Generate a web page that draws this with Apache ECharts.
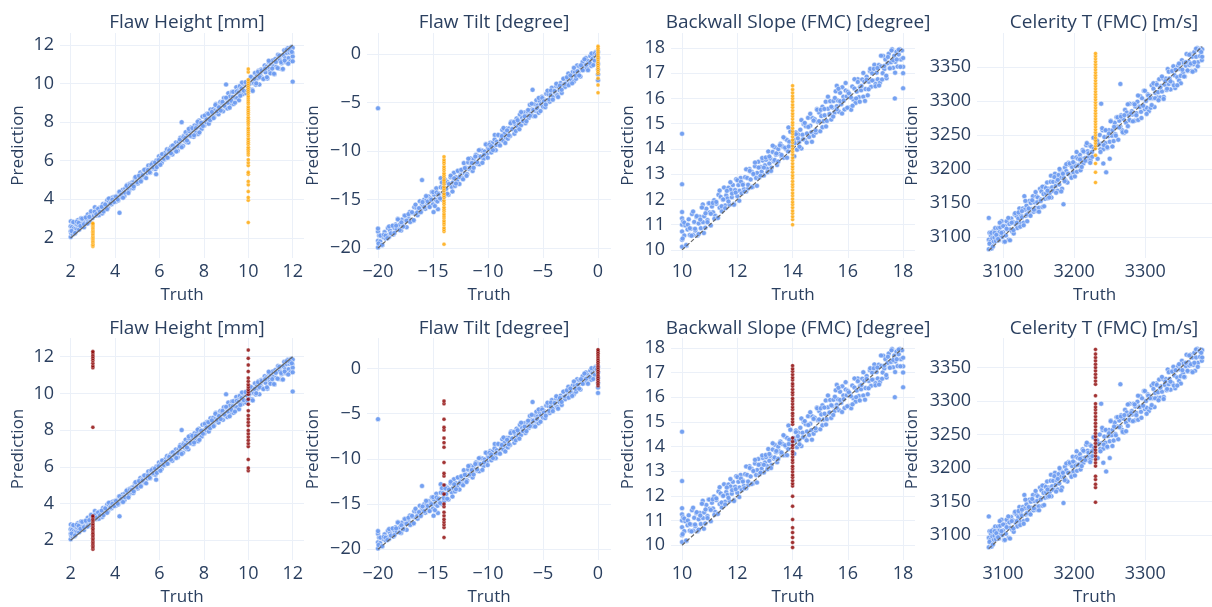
<!DOCTYPE html>
<html><head><meta charset="utf-8">
<script src="https://cdn.jsdelivr.net/npm/echarts@6/dist/echarts.min.js"></script>
<style>html,body{margin:0;padding:0;background:#fff}#c{width:1212px;height:607px}</style>
</head><body><div id="c"></div>
<script>
// ---------- titles & tick labels ----------
const panelTitles = ["Flaw Height [mm]", "Flaw Tilt [degree]", "Backwall Slope (FMC) [degree]", "Celerity T (FMC) [m/s]"];
const xTicks = [[2,4,6,8,10,12], [-20,-15,-10,-5,0], [10,12,14,16,18], [3100,3200,3300]];
const yTicks = [[2,4,6,8,10,12], [-20,-15,-10,-5,0], [10,11,12,13,14,15,16,17,18], [3100,3150,3200,3250,3300,3350]];

// ---------- identity lines (truth = prediction) ----------
const diag1 = [[2,2],[12,12]];
const diag2 = [[-20,-20],[0,0]];
const diag3 = [[10,10],[18,18]];
const diag4 = [[3080,3080],[3380,3380]];

// ---------- blue points (same in both rows), [truth, prediction] ----------
const blue1 = [[2.0,2.05],[2.0,2.35],[2.0,2.6],[2.01,2.86],[2.03,2.23],[2.06,2.56],[2.09,2.19],[2.11,2.81],[2.14,2.49],[2.17,2.22],[2.2,2.75],[2.23,2.48],[2.26,2.71],[2.29,2.44],[2.32,2.92],[2.35,2.65],[2.38,2.43],[2.41,2.86],[2.44,2.64],[2.47,3.02],[2.5,2.6],[2.53,2.88],[2.56,2.76],[2.6,2.55],[2.63,3.03],[2.66,2.81],[2.7,3.0],[2.73,2.73],[2.77,3.22],[2.8,2.9],[2.84,3.09],[2.87,2.82],[2.91,3.26],[2.94,3.09],[2.98,3.03],[3.02,3.32],[3.05,3.15],[3.09,3.59],[3.12,3.32],[3.16,3.16],[3.2,3.5],[3.23,3.33],[3.27,3.17],[3.31,3.56],[3.35,3.4],[3.38,3.58],[3.42,3.27],[3.46,3.76],[3.5,3.6],[3.53,3.48],[3.57,3.77],[3.61,3.66],[3.65,3.95],[3.68,3.58],[3.72,3.87],[3.76,3.76],[3.8,4.05],[3.84,3.74],[3.87,3.97],[3.91,4.11],[3.95,3.9],[3.99,4.14],[4.03,3.88],[4.07,4.17],[4.1,4.1],[4.14,3.94],[4.2,3.3],[4.18,4.38],[4.22,4.17],[4.26,4.36],[4.3,4.1],[4.34,4.49],[4.38,4.38],[4.42,4.17],[4.46,4.56],[4.5,4.4],[4.54,4.74],[4.58,4.53],[4.62,4.42],[4.66,4.81],[4.7,4.7],[4.74,4.59],[4.78,4.88],[4.82,4.57],[4.86,4.91],[4.9,5.1],[4.94,4.84],[4.98,5.03],[5.02,4.82],[5.06,5.21],[5.1,5.05],[5.14,5.39],[5.18,5.03],[5.22,5.32],[5.26,5.21],[5.3,5.5],[5.34,5.14],[5.38,5.43],[5.42,5.57],[5.46,5.36],[5.5,5.75],[5.54,5.54],[5.58,5.38],[5.62,5.72],[5.66,5.61],[5.7,5.9],[5.74,5.59],[5.78,5.83],[5.82,5.57],[5.85,5.3],[5.86,6.01],[5.9,5.9],[5.94,5.84],[5.98,6.23],[6.02,5.97],[6.06,6.16],[6.1,5.9],[6.14,6.34],[6.18,6.18],[6.22,6.07],[6.26,6.41],[6.3,6.25],[6.34,6.59],[6.38,6.18],[6.42,6.47],[6.46,6.61],[6.5,6.4],[6.54,6.74],[6.58,6.33],[6.62,6.62],[6.66,6.76],[6.7,6.55],[6.74,6.94],[6.78,6.73],[6.82,6.52],[6.86,6.96],[6.9,6.8],[6.94,7.19],[6.98,6.78],[7.0,8.0],[7.02,7.12],[7.06,6.76],[7.1,7.3],[7.14,7.04],[7.18,7.48],[7.22,6.97],[7.26,7.31],[7.3,6.95],[7.34,7.54],[7.38,7.28],[7.42,7.72],[7.46,7.26],[7.5,7.6],[7.54,7.24],[7.58,7.83],[7.62,7.62],[7.66,7.46],[7.7,7.85],[7.74,7.39],[7.78,8.08],[7.82,7.72],[7.86,7.96],[7.9,7.65],[7.94,8.29],[7.98,7.98],[8.02,7.82],[8.06,8.26],[8.1,8.0],[8.14,8.44],[8.18,8.18],[8.22,7.92],[8.26,8.41],[8.3,8.65],[8.34,8.19],[8.38,8.43],[8.42,8.67],[8.46,8.26],[8.5,8.6],[8.54,8.94],[8.58,8.48],[8.62,8.82],[8.66,8.41],[8.7,8.75],[8.74,9.04],[8.78,8.63],[8.82,8.97],[8.86,8.56],[8.9,9.25],[8.94,8.94],[8.98,8.78],[9.0,9.95],[9.02,9.22],[9.06,8.71],[9.1,9.5],[9.14,9.09],[9.18,9.33],[9.22,8.92],[9.26,9.56],[9.3,9.3],[9.34,8.94],[9.38,9.58],[9.42,9.27],[9.46,9.81],[9.5,9.25],[9.54,9.64],[9.58,9.13],[9.62,9.87],[9.66,9.56],[9.7,9.75],[9.74,9.44],[9.78,9.98],[9.82,9.62],[9.86,9.96],[9.9,9.5],[9.94,9.94],[9.98,9.83],[10.02,10.12],[10.06,9.71],[10.1,10.3],[10.14,10.04],[10.18,9.68],[10.22,10.27],[10.26,10.01],[10.3,10.55],[10.34,9.94],[10.38,10.38],[10.42,10.27],[10.46,10.66],[10.5,9.95],[10.54,10.49],[10.58,10.73],[10.62,10.32],[10.66,10.66],[10.7,10.25],[10.74,10.94],[10.78,10.58],[10.82,10.87],[10.86,10.26],[10.9,10.8],[10.94,11.09],[10.98,10.63],[11.02,11.02],[11.06,10.56],[11.1,11.2],[11.14,10.89],[11.18,10.48],[11.22,11.27],[11.26,10.86],[11.3,11.2],[11.34,11.49],[11.38,10.78],[11.42,11.22],[11.46,11.46],[11.5,11.05],[11.54,10.74],[11.58,11.48],[11.62,11.72],[11.66,11.31],[11.7,11.1],[11.74,11.59],[11.78,11.83],[11.82,11.32],[11.86,11.61],[11.9,11.15],[11.94,11.89],[11.98,11.58],[12.0,11.85],[12.0,11.4],[12.0,11.15],[12.0,10.1]];
const blue1b = [[2.04,2.36],[2.12,2.82],[2.2,2.26],[2.28,2.84],[2.36,2.78],[2.44,2.62],[2.52,3.0],[2.6,2.71],[2.68,3.06],[2.76,2.75],[2.84,3.09],[2.92,3.38],[3.08,3.36],[3.16,3.23],[3.24,3.51],[3.32,3.36],[3.4,3.61],[3.48,3.37],[3.56,3.73],[3.64,3.49],[3.72,4.04],[3.8,3.8],[3.88,3.98],[3.96,3.86],[4.04,4.14],[4.12,3.99],[4.2,4.39],[4.28,4.24],[4.36,4.08],[4.44,4.35],[4.52,4.7],[4.6,4.33],[4.68,4.76],[4.76,4.74],[4.84,4.66],[4.92,5.16],[5.0,4.89],[5.08,5.22],[5.16,4.93],[5.24,5.25],[5.32,5.53],[5.4,5.1],[5.48,5.52],[5.56,5.4],[5.64,5.81],[5.72,5.66],[5.8,5.91],[5.88,5.67],[5.96,6.03],[6.04,5.79],[6.12,6.34],[6.2,6.1],[6.28,6.28],[6.36,6.16],[6.44,6.54],[6.52,6.39],[6.6,6.79],[6.68,6.64],[6.76,6.48],[6.84,6.75],[6.92,7.1],[7.0,6.7],[7.08,7.22],[7.16,7.18],[7.24,7.05],[7.32,7.65],[7.4,7.3],[7.48,7.69],[7.56,7.32],[7.64,7.69],[7.72,8.02],[7.8,7.47],[7.88,7.97],[7.96,7.8],[8.04,8.34],[8.12,8.14],[8.2,8.43],[8.28,8.1],[8.36,8.53],[8.44,8.21],[8.52,8.89],[8.6,8.56],[8.68,8.77],[8.76,8.6],[8.84,9.05],[8.92,8.85],[9.0,9.27],[9.08,9.01],[9.16,8.75],[9.24,9.11],[9.32,9.57],[9.4,9.01],[9.48,9.59],[9.56,9.53],[9.64,9.37],[9.72,10.05],[9.8,9.63],[9.88,10.07],[9.96,9.63],[10.04,9.96],[10.12,10.35],[10.2,9.62],[10.28,10.24],[10.36,10.01],[10.44,10.61],[10.52,10.33],[10.6,10.68],[10.68,10.24],[10.76,10.77],[10.84,10.33],[10.92,11.18],[11.0,10.53],[11.08,10.78],[11.16,10.51],[11.24,11.12],[11.32,10.8],[11.4,11.45],[11.48,11.11],[11.56,10.76],[11.64,11.19],[11.72,11.75],[11.8,11.03],[11.88,11.73],[11.96,11.64]];

const blue2 = [[-20,-19.24],[-20,-19.94],[-20,-18.3],[-20,-18.0],[-20,-5.6],[-19.9,-18.72],[-19.8,-19.32],[-19.7,-18.8],[-19.6,-19.68],[-19.5,-18.88],[-19.4,-18.36],[-19.3,-19.03],[-19.2,-18.68],[-19.1,-17.95],[-19.0,-18.87],[-18.9,-18.21],[-18.8,-18.46],[-18.7,-17.73],[-18.6,-18.61],[-18.5,-17.95],[-18.4,-17.57],[-18.3,-18.1],[-18.2,-16.98],[-18.1,-17.69],[-18.0,-17.58],[-17.9,-18.2],[-17.8,-17.06],[-17.7,-17.68],[-17.6,-16.66],[-17.5,-17.16],[-17.4,-17.86],[-17.3,-16.72],[-17.2,-17.02],[-17.1,-16.28],[-17.0,-17.14],[-16.9,-16.4],[-16.8,-17.18],[-16.7,-15.8],[-16.6,-16.5],[-16.5,-15.84],[-16.4,-16.62],[-16.3,-15.92],[-16.2,-15.18],[-16.1,-16.16],[-16.0,-15.54],[-16.0,-13.0],[-15.9,-15.68],[-15.8,-15.02],[-15.7,-15.96],[-15.6,-15.06],[-15.5,-15.44],[-15.4,-14.7],[-15.3,-15.72],[-15.2,-14.9],[-15.1,-14.24],[-15.0,-15.5],[-14.95,-16.3],[-14.9,-14.5],[-14.8,-15.0],[-14.7,-13.85],[-14.6,-15.2],[-14.55,-16.0],[-14.5,-14.35],[-14.4,-14.8],[-14.3,-13.75],[-14.3,-12.8],[-14.2,-15.0],[-14.1,-13.8],[-14.0,-14.7],[-13.9,-13.0],[-13.8,-13.9],[-13.7,-13.2],[-13.6,-14.5],[-13.5,-13.4],[-13.4,-12.7],[-13.3,-13.7],[-13.2,-13.25],[-13.1,-12.25],[-13.0,-13.6],[-12.9,-12.7],[-12.8,-13.1],[-12.7,-12.1],[-12.6,-13.4],[-12.5,-12.5],[-12.4,-12.0],[-12.3,-12.8],[-12.2,-11.25],[-12.1,-12.3],[-12.0,-11.72],[-11.9,-12.39],[-11.8,-11.18],[-11.7,-11.85],[-11.6,-10.77],[-11.5,-11.31],[-11.4,-12.06],[-11.3,-10.85],[-11.2,-11.18],[-11.1,-10.4],[-11.0,-11.32],[-10.9,-10.54],[-10.8,-11.37],[-10.7,-9.91],[-10.6,-10.66],[-10.5,-9.97],[-10.4,-10.8],[-10.3,-10.06],[-10.2,-9.28],[-10.1,-10.33],[-10.0,-9.68],[-9.9,-9.83],[-9.8,-9.14],[-9.7,-10.15],[-9.6,-9.19],[-9.5,-9.61],[-9.4,-8.82],[-9.3,-9.92],[-9.2,-9.05],[-9.1,-8.35],[-9.0,-9.28],[-8.9,-8.41],[-8.8,-8.82],[-8.7,-7.83],[-8.6,-8.96],[-8.5,-8.22],[-8.4,-8.59],[-8.3,-7.68],[-8.2,-8.73],[-8.1,-7.69],[-8.0,-8.45],[-7.9,-6.98],[-7.8,-7.73],[-7.7,-7.12],[-7.6,-8.22],[-7.5,-7.26],[-7.4,-6.65],[-7.3,-7.49],[-7.2,-7.09],[-7.1,-6.23],[-7.0,-7.36],[-6.9,-6.58],[-6.8,-6.91],[-6.7,-6.04],[-6.6,-7.13],[-6.5,-6.35],[-6.4,-5.91],[-6.3,-6.58],[-6.2,-5.24],[-6.1,-6.12],[-6.0,-5.72],[-5.95,-3.7],[-5.9,-6.39],[-5.8,-5.18],[-5.7,-5.85],[-5.6,-4.77],[-5.5,-5.31],[-5.4,-6.06],[-5.3,-4.85],[-5.2,-5.18],[-5.1,-4.4],[-5.0,-5.44],[-4.9,-4.7],[-4.8,-5.48],[-4.7,-4.1],[-4.6,-4.8],[-4.5,-4.14],[-4.4,-4.92],[-4.3,-4.22],[-4.2,-3.48],[-4.1,-4.46],[-4.0,-3.84],[-3.9,-3.98],[-3.8,-3.32],[-3.7,-4.26],[-3.6,-3.36],[-3.5,-3.74],[-3.4,-3.0],[-3.3,-4.02],[-3.2,-3.2],[-3.1,-2.54],[-3.0,-3.4],[-2.9,-2.58],[-2.8,-2.96],[-2.7,-2.02],[-2.6,-3.08],[-2.5,-2.38],[-2.4,-2.72],[-2.3,-1.86],[-2.2,-2.84],[-2.1,-1.86],[-2.0,-2.56],[-1.9,-1.18],[-1.8,-1.88],[-1.7,-1.3],[-1.6,-2.32],[-1.5,-1.42],[-1.4,-0.84],[-1.3,-1.62],[-1.2,-1.24],[-1.1,-0.42],[-1.0,-1.48],[-0.9,-0.74],[-0.8,-1.04],[-0.7,-0.22],[-0.6,-1.24],[-0.5,-0.5],[-0.4,-0.08],[-0.3,-0.7],[-0.2,0.2],[-0.1,-0.26],[0,0.2],[0,-0.4],[0,-1.0],[0,-1.6],[0,-2.1],[0,-2.7]];
const blue2b = [[-19.95,-19.54],[-19.79,-18.72],[-19.63,-19.68],[-19.47,-18.64],[-19.31,-18.73],[-19.15,-18.99],[-18.99,-17.78],[-18.83,-18.49],[-18.67,-17.7],[-18.51,-18.45],[-18.35,-17.7],[-18.19,-17.05],[-18.03,-18.15],[-17.87,-17.36],[-17.71,-17.79],[-17.55,-16.66],[-17.39,-17.18],[-17.23,-16.51],[-17.07,-17.32],[-16.91,-16.31],[-16.75,-17.13],[-16.59,-15.53],[-16.43,-16.34],[-16.27,-15.89],[-16.11,-16.32],[-15.95,-15.27],[-15.79,-15.79],[-15.63,-14.65],[-15.47,-15.21],[-15.31,-15.78],[-15.15,-15.02],[-14.99,-14.24],[-14.83,-15.68],[-14.67,-14.27],[-14.51,-14.46],[-14.35,-14.9],[-14.19,-13.24],[-14.03,-14.33],[-13.87,-13.27],[-13.71,-14.41],[-13.55,-13.4],[-13.39,-12.54],[-13.23,-14.18],[-13.07,-12.82],[-12.91,-13.36],[-12.75,-12.05],[-12.59,-12.69],[-12.43,-11.93],[-12.27,-12.92],[-12.11,-11.76],[-11.95,-12.56],[-11.79,-10.79],[-11.63,-11.72],[-11.47,-11.23],[-11.31,-11.73],[-11.15,-10.57],[-10.99,-11.17],[-10.83,-9.92],[-10.67,-10.57],[-10.51,-11.22],[-10.35,-10.39],[-10.19,-9.33],[-10.03,-10.69],[-9.87,-9.34],[-9.71,-9.51],[-9.55,-9.92],[-9.39,-8.34],[-9.23,-9.37],[-9.07,-8.35],[-8.91,-9.43],[-8.75,-8.46],[-8.59,-7.63],[-8.43,-9.18],[-8.27,-7.88],[-8.11,-8.39],[-7.95,-7.14],[-7.79,-7.74],[-7.63,-7.0],[-7.47,-7.94],[-7.31,-6.83],[-7.15,-7.76],[-6.99,-5.99],[-6.83,-6.92],[-6.67,-6.43],[-6.51,-6.93],[-6.35,-5.77],[-6.19,-6.37],[-6.03,-5.12],[-5.87,-5.77],[-5.71,-6.42],[-5.55,-5.59],[-5.39,-4.53],[-5.23,-5.89],[-5.07,-4.54],[-4.91,-4.87],[-4.75,-5.22],[-4.59,-3.78],[-4.43,-4.69],[-4.27,-3.76],[-4.11,-4.71],[-3.95,-3.82],[-3.79,-3.07],[-3.63,-4.44],[-3.47,-3.26],[-3.31,-3.69],[-3.15,-2.56],[-2.99,-3.08],[-2.83,-2.41],[-2.67,-3.22],[-2.51,-2.21],[-2.35,-3.03],[-2.19,-1.43],[-2.03,-2.24],[-1.87,-1.79],[-1.71,-2.22],[-1.55,-1.17],[-1.39,-1.69],[-1.23,-0.55],[-1.07,-1.11],[-0.91,-1.68],[-0.75,-0.92],[-0.59,0.05],[-0.43,-1.15],[-0.27,0.07],[-0.11,-0.07]];

const blue3 = [[10,10.73],[10,10.13],[10,10.4],[10,11.0],[10,11.25],[10,11.5],[10,12.6],[10,14.6],[10.04,11.13],[10.08,10.57],[10.12,10.97],[10.16,10.17],[10.2,10.81],[10.24,11.21],[10.28,10.59],[10.32,10.84],[10.36,11.42],[10.4,10.59],[10.44,11.11],[10.48,10.77],[10.52,11.3],[10.56,10.57],[10.6,11.05],[10.64,11.31],[10.68,10.86],[10.72,11.69],[10.75,11.8],[10.76,11.1],[10.8,11.33],[10.84,10.88],[10.88,11.63],[10.92,11.18],[10.96,11.85],[11.0,11.48],[11.04,10.97],[11.08,11.72],[11.12,11.49],[11.16,11.97],[11.2,11.35],[11.24,11.83],[11.28,11.26],[11.32,12.18],[11.36,11.67],[11.4,12.1],[11.44,11.53],[11.48,11.99],[11.52,12.47],[11.56,11.76],[11.6,12.16],[11.64,12.04],[11.68,12.46],[11.72,11.79],[11.76,12.38],[11.8,12.09],[11.84,12.57],[11.88,11.83],[11.92,12.37],[11.96,12.8],[12.0,12.13],[12.04,12.57],[12.08,12.34],[12.12,12.85],[12.16,12.24],[12.2,12.62],[12.24,12.41],[12.28,12.88],[12.32,12.31],[12.36,12.85],[12.4,12.44],[12.44,13.2],[12.48,12.79],[12.52,13.1],[12.56,12.5],[12.6,13.0],[12.64,13.31],[12.68,12.85],[12.72,13.05],[12.76,13.49],[12.8,12.88],[12.84,13.28],[12.88,13.1],[12.92,13.54],[12.96,12.95],[13.0,13.35],[13.04,13.57],[13.08,13.21],[13.12,13.9],[13.16,13.42],[13.2,13.62],[13.24,13.25],[13.28,13.88],[13.32,13.51],[13.36,14.07],[13.4,13.77],[13.44,13.36],[13.48,13.99],[13.52,13.8],[13.56,14.2],[13.6,13.7],[13.64,14.1],[13.68,13.65],[13.72,14.41],[13.76,14.0],[13.8,14.35],[13.85,14.85],[13.84,13.9],[13.88,14.28],[13.92,14.68],[13.96,14.11],[14.04,14.35],[14.08,14.23],[14.12,14.65],[14.16,13.97],[14.2,14.57],[14.24,14.28],[14.28,14.76],[14.32,14.02],[14.36,14.56],[14.4,14.99],[14.44,14.36],[14.48,14.9],[14.52,14.61],[14.56,15.23],[14.6,14.47],[14.64,14.92],[14.68,14.66],[14.72,15.22],[14.76,14.52],[14.8,15.17],[14.84,14.65],[14.88,15.58],[14.92,15.07],[14.96,15.44],[15.0,14.7],[15.04,15.3],[15.08,15.67],[15.12,15.1],[15.16,15.33],[15.2,15.87],[15.24,15.11],[15.28,15.59],[15.32,15.36],[15.36,15.89],[15.4,15.16],[15.44,15.64],[15.48,15.9],[15.52,15.44],[15.56,16.28],[15.6,16.5],[15.6,15.69],[15.64,15.92],[15.68,15.47],[15.72,16.22],[15.76,15.77],[15.8,16.44],[15.84,16.07],[15.88,15.56],[15.92,16.31],[15.96,16.08],[16.0,16.26],[16.04,15.64],[16.08,16.12],[16.12,15.55],[16.16,16.47],[16.2,15.96],[16.24,16.39],[16.28,15.82],[16.32,16.27],[16.36,16.76],[16.4,16.05],[16.44,16.45],[16.48,16.32],[16.52,16.75],[16.56,16.07],[16.6,16.67],[16.64,16.37],[16.68,16.86],[16.72,16.12],[16.76,16.66],[16.8,17.09],[16.84,16.46],[16.88,17.0],[16.92,16.71],[16.96,17.33],[17.0,16.57],[17.04,17.02],[17.08,16.76],[17.12,17.32],[17.16,16.62],[17.2,17.27],[17.24,16.75],[17.28,17.68],[17.32,17.16],[17.36,17.54],[17.4,16.8],[17.44,17.39],[17.48,17.77],[17.52,17.2],[17.56,17.43],[17.6,17.95],[17.64,17.21],[17.68,17.69],[17.7,16.0],[17.72,17.45],[17.76,17.85],[17.8,17.26],[17.84,17.74],[17.88,17.95],[17.92,17.54],[17.96,17.9],[18.0,17.6],[18.0,17.25],[18.0,17.0],[18.0,16.4]];
const blue3b = [[10.02,10.45],[10.08,11.08],[10.15,10.19],[10.21,11.0],[10.28,10.86],[10.34,10.56],[10.4,11.52],[10.47,10.84],[10.53,11.34],[10.6,10.63],[10.66,11.2],[10.72,11.68],[10.79,10.67],[10.85,11.45],[10.92,11.1],[10.98,11.85],[11.04,11.43],[11.11,11.86],[11.17,11.23],[11.24,11.9],[11.3,11.27],[11.36,12.35],[11.43,11.73],[11.49,12.0],[11.56,11.65],[11.62,12.34],[11.68,11.92],[11.75,12.68],[11.81,12.23],[11.88,11.79],[11.94,12.27],[12.0,12.76],[12.07,11.95],[12.13,12.7],[12.2,12.58],[12.26,12.31],[12.32,13.19],[12.39,12.58],[12.45,13.13],[12.52,12.48],[12.58,13.01],[12.64,13.46],[12.71,12.54],[12.77,13.26],[12.84,12.94],[12.9,13.64],[12.96,13.26],[13.03,13.66],[13.09,13.08],[13.16,13.7],[13.22,13.13],[13.28,14.13],[13.35,13.56],[13.41,13.82],[13.48,13.5],[13.54,14.14],[13.6,13.76],[13.67,14.46],[13.73,14.05],[13.8,13.65],[13.86,14.1],[13.92,14.68],[14.06,13.71],[14.12,14.58],[14.19,14.42],[14.25,14.09],[14.32,15.14],[14.38,14.38],[14.44,15.03],[14.51,14.25],[14.57,14.87],[14.64,15.39],[14.7,14.28],[14.76,15.12],[14.83,14.74],[14.89,15.55],[14.96,15.1],[15.02,15.55],[15.08,14.86],[15.15,15.58],[15.21,14.89],[15.28,16.07],[15.34,15.38],[15.4,15.67],[15.47,15.28],[15.53,16.02],[15.6,15.57],[15.66,16.38],[15.72,15.89],[15.79,15.4],[15.85,15.92],[15.92,16.61],[15.98,15.63],[16.04,16.2],[16.11,16.04],[16.17,15.71],[16.24,16.76],[16.3,16.0],[16.36,16.65],[16.43,15.87],[16.49,16.49],[16.56,17.01],[16.62,15.9],[16.68,16.74],[16.75,16.36],[16.81,17.17],[16.88,16.71],[16.94,17.17],[17.0,16.48],[17.07,17.2],[17.13,16.51],[17.2,17.69],[17.26,17.0],[17.32,17.28],[17.39,16.9],[17.45,17.64],[17.52,17.19],[17.58,17.9],[17.64,17.51],[17.71,17.02],[17.77,17.54],[17.84,17.93],[17.9,17.25]];

const blue4 = [[3080,3096],[3080,3082],[3080,3128],[3081,3106],[3082,3093],[3083,3102],[3084,3083],[3085,3098],[3086,3108],[3087,3093],[3088,3099],[3089,3113],[3090,3094],[3091,3106],[3092,3100],[3093,3113],[3094,3095],[3095,3107],[3096,3114],[3097,3102],[3098,3123],[3099,3100],[3100,3107],[3101.5,3093],[3103,3116],[3104,3102],[3105,3123],[3106.5,3111],[3108,3096],[3109,3119],[3110,3111],[3111.5,3127],[3113,3108],[3114,3122],[3115,3105],[3116.5,3133],[3118,3118],[3119,3131],[3120,3113],[3121.5,3127],[3123,3142],[3124,3120],[3125,3132],[3126.5,3129],[3128,3142],[3129,3121],[3130,3160],[3130.5,3140],[3132,3131],[3133,3146],[3134,3123],[3135.5,3140],[3137,3153],[3138,3133],[3139,3150],[3140.5,3141],[3142,3160],[3143,3137],[3144,3151],[3145.5,3143],[3147,3160],[3148,3138],[3149,3158],[3150.5,3143],[3152,3171],[3153,3155],[3154,3167],[3155.5,3144],[3157,3163],[3158,3174],[3159,3156],[3160.5,3164],[3162,3180],[3163,3157],[3164,3171],[3165.5,3164],[3167,3181],[3168,3158],[3169,3173],[3170.5,3181],[3172,3168],[3173,3193],[3174,3175],[3175.5,3182],[3177,3168],[3178,3191],[3179,3177],[3180.5,3198],[3182,3187],[3183,3171],[3184,3194],[3185,3148],[3185.5,3187],[3187,3202],[3188,3183],[3189,3197],[3190.5,3180],[3192,3209],[3193,3193],[3194,3206],[3195.5,3189],[3197,3203],[3198,3217],[3199,3195],[3200.5,3208],[3202,3204],[3203,3217],[3204,3196],[3205.5,3215],[3207,3206],[3208,3221],[3209,3198],[3210.5,3215],[3212,3228],[3213,3208],[3214,3225],[3215.5,3216],[3217,3235],[3218,3212],[3219,3226],[3220.5,3218],[3222,3235],[3223,3213],[3224,3233],[3225.5,3218],[3227,3246],[3228,3230],[3232,3242],[3233,3215],[3234.5,3237],[3236,3250],[3237,3229],[3238,3296],[3238.5,3237],[3240,3257],[3241,3208],[3241,3229],[3242.5,3247],[3244,3238],[3245,3195],[3245,3257],[3246.5,3231],[3248,3248],[3249,3257],[3250,3240],[3250,3215],[3251.5,3271],[3253,3249],[3254,3257],[3255.5,3241],[3257,3268],[3258,3251],[3259.5,3276],[3261,3262],[3262,3243],[3263.5,3271],[3265,3262],[3265,3325],[3266,3279],[3267.5,3257],[3269,3274],[3270,3253],[3271.5,3287],[3273,3268],[3274,3283],[3275.5,3263],[3277,3279],[3278,3296],[3279.5,3271],[3281,3285],[3282,3280],[3283.5,3296],[3285,3271],[3286,3292],[3287.5,3282],[3289,3299],[3290,3272],[3291.5,3292],[3293,3307],[3294,3284],[3295.5,3304],[3297,3293],[3298,3315],[3299.5,3288],[3301,3300],[3302,3290],[3303.5,3310],[3305,3285],[3306,3308],[3307.5,3290],[3309,3323],[3310,3304],[3311.5,3318],[3313,3291],[3314,3312],[3315.5,3326],[3317,3305],[3318,3313],[3319.5,3332],[3321,3305],[3322,3322],[3323.5,3314],[3325,3333],[3326,3306],[3327.5,3324],[3329,3333],[3330,3316],[3331.5,3347],[3333,3325],[3334,3333],[3335.5,3317],[3337,3344],[3338,3327],[3339.5,3351],[3341,3338],[3342,3319],[3343.5,3346],[3345,3335],[3346,3352],[3347.5,3330],[3349,3347],[3350,3326],[3351.5,3360],[3353,3341],[3354,3356],[3355.5,3336],[3357,3352],[3358,3369],[3359.5,3344],[3361,3358],[3362,3353],[3363.5,3369],[3365,3344],[3366,3365],[3367.5,3354],[3369,3372],[3370,3345],[3371.5,3365],[3373,3378],[3374,3357],[3375.5,3375],[3377,3366],[3378,3377],[3379.5,3360],[3380,3376],[3380,3365]];
const blue4b = [[3081,3090],[3083.4,3106],[3085.8,3086],[3088.2,3106],[3090.6,3103],[3093,3097],[3095.4,3121],[3097.8,3106],[3100.2,3116],[3102.6,3093],[3105,3112],[3107.4,3128],[3109.8,3095],[3112.2,3121],[3114.6,3110],[3117,3135],[3119.4,3121],[3121.8,3136],[3124.2,3115],[3126.6,3138],[3129,3117],[3131.4,3153],[3133.8,3133],[3136.2,3142],[3138.6,3131],[3141,3154],[3143.4,3140],[3145.8,3166],[3148.2,3151],[3150.6,3137],[3153,3153],[3155.4,3174],[3157.8,3145],[3160.2,3172],[3162.6,3168],[3165,3158],[3167.4,3190],[3169.8,3168],[3172.2,3188],[3174.6,3165],[3177,3184],[3179.4,3200],[3181.8,3167],[3184.2,3193],[3186.6,3182],[3189,3207],[3191.4,3193],[3193.8,3208],[3196.2,3187],[3198.6,3210],[3201,3189],[3203.4,3225],[3205.8,3205],[3208.2,3214],[3210.6,3203],[3213,3226],[3215.4,3212],[3217.8,3238],[3220.2,3223],[3222.6,3209],[3225,3225],[3227.4,3246],[3232.2,3241],[3234.6,3236],[3237,3225],[3239.4,3260],[3241.8,3235],[3244.2,3257],[3246.6,3232],[3249,3252],[3251.4,3270],[3253.8,3233],[3256.2,3262],[3258.6,3249],[3261,3276],[3263.4,3261],[3265.8,3277],[3268.2,3254],[3270.6,3279],[3273,3255],[3275.4,3295],[3277.8,3272],[3280.2,3282],[3282.6,3270],[3285,3295],[3287.4,3279],[3289.8,3308],[3292.2,3291],[3294.6,3275],[3297,3293],[3299.4,3315],[3301.8,3281],[3304.2,3308],[3306.6,3304],[3309,3294],[3311.4,3326],[3313.8,3304],[3316.2,3324],[3318.6,3301],[3321,3320],[3323.4,3336],[3325.8,3303],[3328.2,3329],[3330.6,3318],[3333,3343],[3335.4,3329],[3337.8,3344],[3340.2,3323],[3342.6,3346],[3345,3323],[3347.4,3355],[3349.8,3337],[3352.2,3346],[3354.6,3336],[3357,3357],[3359.4,3345],[3361.8,3368],[3364.2,3355],[3366.6,3343],[3369,3357],[3371.4,3377],[3373.8,3351],[3376.2,3375],[3378.6,3372]];

// ---------- highlighted strips, top row (orange) ----------
const orange1_x3  = [1.55,1.62,1.67,1.75,1.8,1.86,1.93,1.98,2.04,2.1,2.17,2.22,2.3,2.35,2.41,2.48,2.53,2.6,2.66,2.71,2.76];
const orange1_x10 = [2.8,3.95,4.1,4.4,4.75,4.93,5.3,5.4,5.75,5.9,6.05,6.3,6.4,6.5,6.6,6.7,6.85,6.95,7.05,7.15,7.3,7.4,7.5,7.6,7.7,7.85,7.95,8.05,8.15,8.25,8.4,8.5,8.6,8.7,8.8,8.95,9.05,9.15,9.25,9.35,9.5,9.6,9.7,9.8,9.9,10.0,10.1,10.2,10.6,10.75];
const orange2_xm14 = [-19.6,-18.3,-18.1,-17.9,-17.6,-17.4,-17.2,-16.9,-16.7,-16.5,-16.2,-16.0,-15.8,-15.5,-15.3,-15.1,-14.8,-14.6,-14.4,-14.1,-13.9,-13.7,-13.4,-13.2,-13.0,-12.7,-12.5,-12.3,-12.0,-11.8,-11.6,-11.3,-11.1,-10.9,-10.6];
const orange2_x0 = [-4.0,-3.2,-2.5,-2.0,-1.8,-1.6,-1.4,-1.2,-1.0,-0.8,-0.6,-0.4,-0.2,0.0,0.2,0.4,0.6,0.8];
const orange3_x14 = [11.0,11.2,11.32,11.45,11.55,11.68,11.8,11.9,12.02,12.15,12.25,12.38,12.5,12.6,12.72,12.85,12.95,13.08,13.2,13.3,13.42,13.55,13.65,13.78,13.9,14.0,14.12,14.25,14.35,14.48,14.6,14.7,14.82,14.95,15.05,15.18,15.3,15.4,15.52,15.65,15.75,15.88,16.0,16.1,16.22,16.35,16.5];
const orange4_x3230 = [3180,3195,3208,3220,3230,3234,3238,3242,3246,3250,3254,3258,3262,3266,3270,3274,3278,3282,3286,3290,3294,3298,3302,3306,3310,3314,3318,3322,3326,3330,3334,3338,3342,3346,3350,3354,3358,3362,3366,3370];

// ---------- highlighted strips, bottom row (dark red) ----------
const red1_x3  = [1.5,1.58,1.65,1.73,1.8,1.88,1.95,2.03,2.1,2.18,2.25,2.33,2.4,2.5,2.58,2.65,2.75,2.83,2.9,3.0,3.08,3.15,3.25,3.32,8.15,11.4,11.5,11.65,11.8,11.9,12.0,12.1,12.2,12.28];
const red1_x10 = [5.79,5.93,6.4,7.1,7.27,7.45,7.63,7.8,7.98,8.25,8.43,8.61,8.79,9.05,9.41,9.68,9.95,10.09,10.21,10.35,10.48,10.66,10.84,11.2,11.55,11.91,12.36];
const red2_xm14 = [-18.7,-17.6,-17.3,-17.0,-16.7,-16.3,-15.9,-15.3,-15.0,-13.9,-12.9,-11.9,-11.6,-10.4,-8.7,-8.2,-7.7,-6.8,-6.5,-5.6,-3.9,-3.6];
const red2_x0 = [-1.9,-1.7,-1.5,-1.3,-1.1,-0.9,-0.7,-0.5,-0.3,-0.1,0.1,0.3,0.5,0.7,0.9,1.1,1.3,1.5,1.7,1.9,2.1];
const red3_x14 = [9.91,10.11,10.31,10.51,10.71,11.04,11.58,11.98,12.4,12.5,12.62,12.75,12.85,12.98,13.1,13.2,13.35,13.45,13.58,13.7,13.8,13.95,14.05,14.2,14.35,14.9,15.0,15.12,15.25,15.35,15.5,15.6,15.72,15.85,15.95,16.1,16.2,16.32,16.45,16.55,16.7,16.8,16.92,17.05,17.15,17.28];
const red4_x3230 = [3149,3171,3176,3183,3188,3203,3208,3213,3218,3223,3227,3232,3237,3242,3247,3252,3257,3262,3267,3272,3277,3282,3287,3291,3296,3308,3325,3330,3335,3340,3345,3350,3355,3360,3365,3370,3377];

// ---------- axis ranges (visible window) ----------
const xRange = [[1.52,12.51],[-21,1.18],[9.60,18.43],[3063.4,3393.8]];
const yRangeTop = [[0.96,12.62],[-21.03,2.16],[9.68,18.59],[3069,3400]];
const yRangeBot = [[0.92,13.02],[-21.2,3.39],[9.4,18.4],[3063,3394]];

// ---------- layout ----------
const FONT = "'Open Sans', 'Noto Sans', sans-serif";
const TXT = '#2a3f5f';
const GRIDC = '#EBF0F8';
const colLeft = [60, 367, 671, 977];
const yNameGap = [33, 45, 34, 56];
const W = 244, H = 225;
const rowTop = [33, 338];

const blues = [blue1.concat(blue1b), blue2.concat(blue2b), blue3.concat(blue3b), blue4.concat(blue4b)];
const diags = [diag1, diag2, diag3, diag4];
const strip = (x, ys) => ys.map(y => [x, y]);
const hlTop = [
  strip(3, orange1_x3).concat(strip(10, orange1_x10)),
  strip(-14, orange2_xm14).concat(strip(0, orange2_x0)),
  strip(14, orange3_x14),
  strip(3230, orange4_x3230)
];
const hlBot = [
  strip(3, red1_x3).concat(strip(10, red1_x10)),
  strip(-14, red2_xm14).concat(strip(0, red2_x0)),
  strip(14, red3_x14),
  strip(3230, red4_x3230)
];

const fmt = v => String(v).replace('-', '\u2212');
const grids = [], xAxes = [], yAxes = [], series = [], titles = [];
for (let r = 0; r < 2; r++) {
  for (let c = 0; c < 4; c++) {
    const i = r * 4 + c;
    grids.push({left: colLeft[c], top: rowTop[r], width: W, height: H, containLabel: false});
    const yr = r === 0 ? yRangeTop[c] : yRangeBot[c];
    xAxes.push({
      type: 'value', gridIndex: i, min: xRange[c][0], max: xRange[c][1],
      name: 'Truth', nameLocation: 'middle', nameGap: 29,
      nameTextStyle: {color: TXT, fontFamily: FONT, fontSize: 17},
      axisLine: {show: false}, axisTick: {show: false, customValues: xTicks[c]},
      axisLabel: {customValues: xTicks[c], color: TXT, fontFamily: FONT, fontSize: 18, margin: 5, formatter: fmt},
      splitLine: {show: true, lineStyle: {color: GRIDC, width: 1}}
    });
    yAxes.push({
      type: 'value', gridIndex: i, min: yr[0], max: yr[1],
      name: 'Prediction', nameLocation: 'middle', nameGap: yNameGap[c], nameRotate: 90,
      nameTextStyle: {color: TXT, fontFamily: FONT, fontSize: 17},
      axisLine: {show: false}, axisTick: {show: false, customValues: yTicks[c]},
      axisLabel: {customValues: yTicks[c], color: TXT, fontFamily: FONT, fontSize: 18, margin: 6, formatter: fmt},
      splitLine: {show: true, lineStyle: {color: GRIDC, width: 1}}
    });
    series.push({
      type: 'scatter', xAxisIndex: i, yAxisIndex: i, data: blues[c], symbolSize: 5,
      itemStyle: {color: '#6E9CF0', borderColor: '#ffffff', borderWidth: 0.5, opacity: 0.95}, z: 2
    });
    series.push({
      type: 'line', xAxisIndex: i, yAxisIndex: i, data: diags[c], showSymbol: false, symbol: 'none',
      lineStyle: {color: '#666', width: 1.2, type: c === 0 ? 'solid' : [4, 2]}, z: 3
    });
    series.push({
      type: 'scatter', xAxisIndex: i, yAxisIndex: i, data: r === 0 ? hlTop[c] : hlBot[c], symbolSize: 4,
      itemStyle: {color: r === 0 ? '#FFA500' : '#8B0000', borderColor: '#ffffff', borderWidth: 0.4}, z: 4
    });
    titles.push({
      text: panelTitles[c], left: colLeft[c] + W / 2, top: r === 0 ? 8 : 314, textAlign: 'center',
      textStyle: {color: TXT, fontFamily: FONT, fontSize: 19, fontWeight: 'normal'}
    });
  }
}

const chart = echarts.init(document.getElementById('c'), null, {renderer: 'canvas'});
chart.setOption({
  animation: false, backgroundColor: '#ffffff',
  title: titles, grid: grids, xAxis: xAxes, yAxis: yAxes, series: series
});
</script></body></html>
